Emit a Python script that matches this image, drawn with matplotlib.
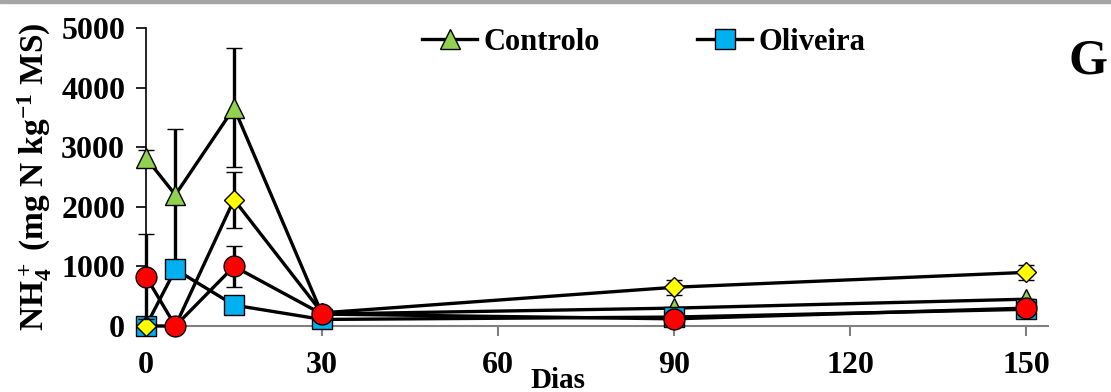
import matplotlib
matplotlib.use("Agg")
import matplotlib.pyplot as plt
from matplotlib.patches import Rectangle
from matplotlib.lines import Line2D

plt.rcParams.update({
    "font.family": "Liberation Serif",
    "font.weight": "bold",
    "font.size": 22,
    "mathtext.fontset": "custom",
    "mathtext.rm": "Liberation Serif:bold",
    "mathtext.it": "Liberation Serif:bold",
    "mathtext.bf": "Liberation Serif:bold",
})

# ---- dados (NH4+, mg N kg-1 MS) ----
dias = [0, 5, 15, 30, 90, 150]
controlo = [2820, 2200, 3660, 200, 300, 450]
controlo_err = [130, 1100, 1000, 0, 0, 0]
oliveira = [0, 950, 350, 110, 150, 280]
oliveira_err = [0, 150, 0, 0, 0, 0]
amarelo = [0, 0, 2120, 220, 650, 900]
amarelo_err = [0, 0, 470, 0, 130, 130]
vermelho = [830, 0, 1000, 200, 120, 300]
vermelho_err = [720, 0, 340, 0, 0, 0]

yticks = [0, 1000, 2000, 3000, 4000, 5000]
xticks = [0, 30, 60, 90, 120, 150]

fig = plt.figure(figsize=(11.11, 3.92), dpi=100)
ax = fig.add_axes([146 / 1111, 66 / 392, 902 / 1111, 298 / 392])

# faixa cinza no topo
fig.patches.append(Rectangle((0, 1 - 3 / 392), 1, 3 / 392, transform=fig.transFigure,
                             color="#a6a6a6", zorder=0))

series = [
    (controlo, controlo_err, "^", "#92d050", 15, "Controlo"),
    (oliveira, oliveira_err, "s", "#00b0f0", 14, "Oliveira"),
    (amarelo, amarelo_err, "D", "#ffff00", 10, None),
    (vermelho, vermelho_err, "o", "#ff0000", 15, None),
]
handles = []
for i, (vals, e, mk, col, ms, lab) in enumerate(series):
    eb = ax.errorbar(dias, vals, yerr=e, fmt=mk + "-", color="black", lw=2.4,
                     markerfacecolor=col, markeredgecolor="black", markeredgewidth=1.0,
                     markersize=ms, ecolor="black", elinewidth=2.4, capsize=6, capthick=2.4,
                     zorder=3 + i, clip_on=False)
    for artist in list(eb.lines[1]) + list(eb.lines[2]):
        artist.set_clip_on(False)
    if lab:
        handles.append(Line2D([], [], color="black", lw=2.4, marker=mk, markersize=ms,
                              markerfacecolor=col, markeredgecolor="black",
                              markeredgewidth=1.0, label=lab))

ax.set_xlim(0, 153.7)
ax.set_ylim(0, 5000)
ax.set_xticks(xticks)
ax.set_yticks(yticks)
ax.spines["top"].set_visible(False)
ax.spines["right"].set_visible(False)
ax.spines["bottom"].set_color("#808080")
ax.spines["bottom"].set_linewidth(1.5)
ax.spines["left"].set_linewidth(1.2)
ax.tick_params(axis="x", colors="#808080", labelcolor="black", length=7, width=1.5,
               pad=11, labelsize=23)
ax.tick_params(axis="y", length=7, width=1.2, pad=8, labelsize=23)
for t in ax.get_xticklabels() + ax.get_yticklabels():
    t.set_fontweight("bold")

ax.set_ylabel(r"NH$_4^+$ (mg N kg$^{-1}$ MS)", fontsize=24, fontweight="bold", labelpad=5)
fig.text(558 / 1111, 1 - 380 / 392, "Dias", ha="center", va="center",
         fontsize=21, fontweight="bold")
fig.text(1088 / 1111, 1 - 62 / 392, "G", ha="center", va="center",
         fontsize=36, fontweight="bold")

leg = fig.legend(handles=handles, loc="upper left", bbox_to_anchor=(422 / 1111, 1 - 28 / 392),
                 ncol=2, frameon=False, fontsize=22, handlelength=1.8, handletextpad=0.2,
                 columnspacing=3.2, borderpad=0, borderaxespad=0)
for t in leg.get_texts():
    t.set_fontweight("bold")

fig.savefig("out.png", dpi=100)
